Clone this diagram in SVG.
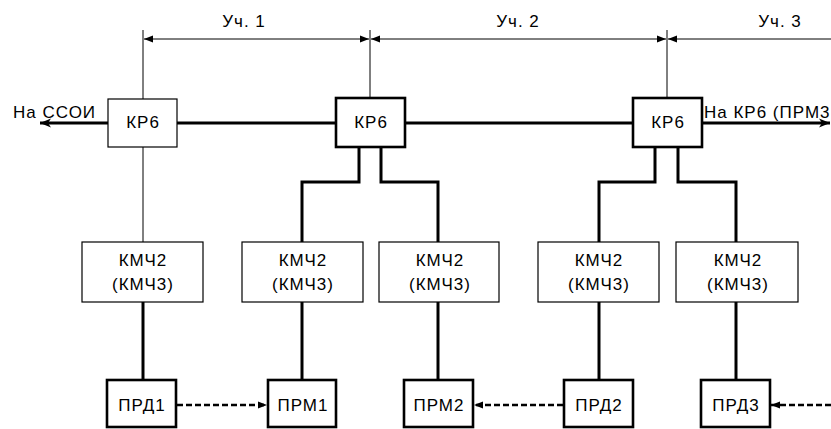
<svg xmlns="http://www.w3.org/2000/svg" width="831" height="429" viewBox="0 0 831 429">
<style>
text{font-family:"Liberation Sans",Arial,sans-serif;font-size:17px;fill:#000;letter-spacing:1px}
.c{text-anchor:middle}
.thin{stroke:#000;stroke-width:1;fill:none}
.thick{stroke:#000;stroke-width:3;fill:none}
.dash{stroke:#000;stroke-width:2.5;fill:none;stroke-dasharray:6 3}
.bt{fill:#fff;stroke:#000;stroke-width:1.2}
.bk{fill:#fff;stroke:#000;stroke-width:2.6}
</style>
<defs>
<marker id="ad" markerWidth="10" markerHeight="8" refX="9" refY="4" orient="auto" markerUnits="userSpaceOnUse">
<path d="M0,0.5 L9,4 L0,7.5 Z" fill="#000"/>
</marker>
<marker id="ab" markerWidth="12" markerHeight="10" refX="11" refY="5" orient="auto" markerUnits="userSpaceOnUse">
<path d="M0,0.5 L11,5 L0,9.5 L3,5 Z" fill="#000"/>
</marker>
</defs>
<g id="connectors">
<line class="thin" x1="143" y1="30" x2="143" y2="99"/>
<line class="thin" x1="370" y1="30" x2="370" y2="98"/>
<line class="thin" x1="667" y1="30" x2="667" y2="98"/>
<line class="thin" x1="256" y1="39" x2="144" y2="39" marker-end="url(#ad)"/>
<line class="thin" x1="256" y1="39" x2="369" y2="39" marker-end="url(#ad)"/>
<line class="thin" x1="518" y1="39" x2="371" y2="39" marker-end="url(#ad)"/>
<line class="thin" x1="518" y1="39" x2="666" y2="39" marker-end="url(#ad)"/>
<line class="thin" x1="831" y1="39" x2="668" y2="39" marker-end="url(#ad)"/>
<line class="thick" x1="108" y1="123" x2="40" y2="123" marker-end="url(#ab)"/>
<line class="thick" x1="177" y1="123" x2="336" y2="123"/>
<line class="thick" x1="405" y1="123" x2="633" y2="123"/>
<line class="thick" x1="702" y1="123" x2="830" y2="123" marker-end="url(#ab)"/>
<line class="thin" x1="143" y1="147" x2="143" y2="242"/>
<polyline class="thick" points="359,147 359,182 302,182 302,242"/>
<polyline class="thick" points="381,147 381,182 438,182 438,242"/>
<polyline class="thick" points="655,147 655,182 599,182 599,242"/>
<polyline class="thick" points="678,147 678,182 736,182 736,242"/>
<line class="thick" x1="143" y1="302" x2="143" y2="380"/>
<line class="thick" x1="302" y1="302" x2="302" y2="380"/>
<line class="thick" x1="438" y1="302" x2="438" y2="380"/>
<line class="thick" x1="599" y1="302" x2="599" y2="380"/>
<line class="thick" x1="736" y1="302" x2="736" y2="380"/>
<line class="dash" x1="177" y1="405" x2="267" y2="405" marker-end="url(#ad)"/>
<line class="dash" x1="563" y1="405" x2="474" y2="405" marker-end="url(#ad)"/>
<line class="dash" x1="831" y1="405" x2="771" y2="405" marker-end="url(#ad)"/>
</g>
<g id="labels">
<text class="c" x="244" y="27">Уч. 1</text>
<text class="c" x="518" y="27">Уч. 2</text>
<text class="c" x="780" y="27">Уч. 3</text>
<text x="13" y="118">На ССОИ</text>
<text x="704" y="118">На КР6 (ПРМ3</text>
</g>
<g id="kr6-1"><rect class="bt" x="108" y="99" width="69" height="48"/><text class="c" x="143" y="128">КР6</text></g>
<g id="kr6-2"><rect class="bk" x="336" y="98" width="69" height="49"/><text class="c" x="371" y="128">КР6</text></g>
<g id="kr6-3"><rect class="bk" x="633" y="98" width="69" height="49"/><text class="c" x="668" y="128">КР6</text></g>
<g id="kmch-1"><rect class="bt" x="82" y="242" width="121" height="60"/><text class="c" x="143" y="266">КМЧ2</text><text class="c" x="143" y="290">(КМЧ3)</text></g>
<g id="kmch-2"><rect class="bt" x="242" y="242" width="121" height="60"/><text class="c" x="303" y="266">КМЧ2</text><text class="c" x="303" y="290">(КМЧ3)</text></g>
<g id="kmch-3"><rect class="bt" x="379" y="242" width="120" height="60"/><text class="c" x="440" y="266">КМЧ2</text><text class="c" x="440" y="290">(КМЧ3)</text></g>
<g id="kmch-4"><rect class="bt" x="538" y="242" width="121" height="60"/><text class="c" x="599" y="266">КМЧ2</text><text class="c" x="599" y="290">(КМЧ3)</text></g>
<g id="kmch-5"><rect class="bt" x="676" y="242" width="122" height="60"/><text class="c" x="738" y="266">КМЧ2</text><text class="c" x="738" y="290">(КМЧ3)</text></g>
<g id="prd1"><rect class="bk" x="107" y="380" width="69" height="47"/><text class="c" x="142" y="411">ПРД1</text></g>
<g id="prm1"><rect class="bk" x="268" y="380" width="68" height="47"/><text class="c" x="303" y="411">ПРМ1</text></g>
<g id="prm2"><rect class="bk" x="404" y="380" width="69" height="47"/><text class="c" x="439" y="411">ПРМ2</text></g>
<g id="prd2"><rect class="bk" x="564" y="380" width="69" height="47"/><text class="c" x="599" y="411">ПРД2</text></g>
<g id="prd3"><rect class="bk" x="701" y="380" width="69" height="47"/><text class="c" x="736" y="411">ПРД3</text></g>
</svg>
